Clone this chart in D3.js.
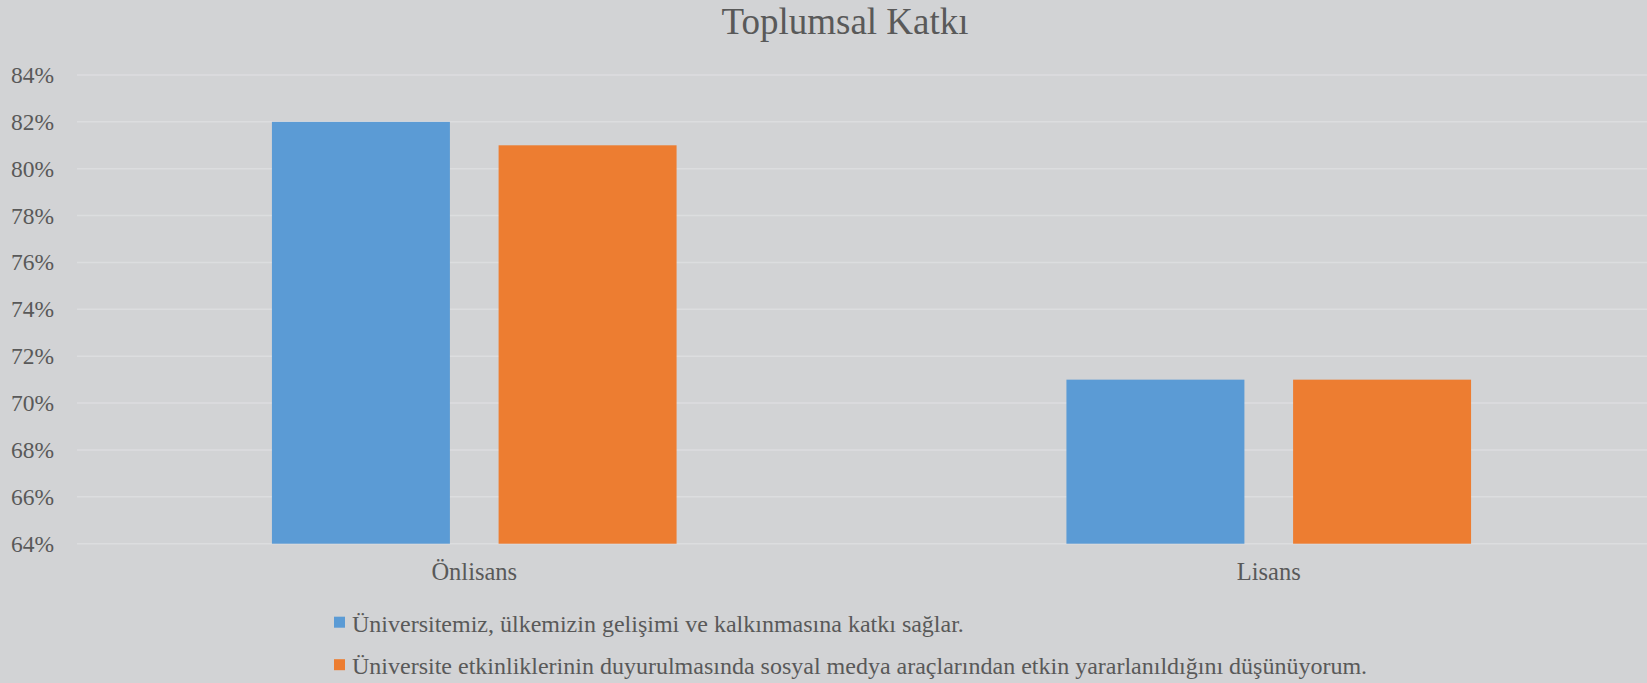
<!DOCTYPE html>
<html>
<head>
<meta charset="utf-8">
<script src="https://cdn.jsdelivr.net/npm/d3@7"></script>
<style>
  body { margin: 0; background: #d2d3d5; overflow: hidden; }
  text { font-family: "Liberation Serif", "Times New Roman", serif; fill: #595959; }
</style>
</head>
<body>
<svg id="chart"></svg>
<script>
// data
var categories = ["Önlisans", "Lisans"]
var seriesNames = [
  "Üniversitemiz, ülkemizin gelişimi ve kalkınmasına katkı sağlar.",
  "Üniversite etkinliklerinin duyurulmasında sosyal medya araçlarından etkin yararlanıldığını düşünüyorum."
]
var seriesOne = [0.82, 0.71]
var seriesTwo = [0.81, 0.71]
var yTicks = [0.64, 0.66, 0.68, 0.70, 0.72, 0.74, 0.76, 0.78, 0.80, 0.82, 0.84]
var colors = ["#5b9bd5", "#ed7d31"]
var title = "Toplumsal Katkı"

var width = 1647
var height = 683

var margin = { top: 75, bottom: 139.3, left: 77, right: -19 }

var svg = d3.select("#chart").attr("width", width).attr("height", height)

var yScale = d3.scaleLinear()
  .domain([0.64, 0.84])
  .range([height - margin.bottom, margin.top])

var x0 = d3.scaleBand()
  .domain(categories)
  .range([margin.left, width - margin.right])

var x1 = d3.scaleBand()
  .domain([0, 1])
  .range([0, x0.bandwidth()])
  .paddingInner(0.2148)
  .paddingOuter(0.86)

// gridlines
svg.append("g")
  .selectAll("line")
  .data(yTicks)
  .enter().append("line")
  .attr("x1", margin.left)
  .attr("x2", width)
  .attr("y1", d => yScale(d))
  .attr("y2", d => yScale(d))
  .attr("stroke", "#dcdddf")
  .attr("stroke-width", 1.5)

// y labels
svg.append("g")
  .selectAll("text")
  .data(yTicks)
  .enter().append("text")
  .attr("x", 54)
  .attr("y", d => yScale(d) + 8)
  .attr("text-anchor", "end")
  .style("font-size", "23.5px")
  .text(d => Math.round(d * 100) + "%")

// bars
var rows = categories.map((c, i) => ({ cat: c, values: [seriesOne[i], seriesTwo[i]] }))

var groups = svg.append("g")
  .selectAll("g")
  .data(rows)
  .enter().append("g")
  .attr("transform", d => "translate(" + x0(d.cat) + ",0)")

groups.selectAll("rect")
  .data(d => d.values.map((v, j) => ({ v: v, j: j })))
  .enter().append("rect")
  .attr("x", d => x1(d.j))
  .attr("width", x1.bandwidth())
  .attr("y", d => yScale(d.v))
  .attr("height", d => yScale(0.64) - yScale(d.v))
  .attr("fill", d => colors[d.j])

// category labels
svg.append("g")
  .selectAll("text")
  .data(categories)
  .enter().append("text")
  .attr("x", d => x0(d) + x0.bandwidth() / 2)
  .attr("y", 579.5)
  .attr("text-anchor", "middle")
  .style("font-size", "24.5px")
  .text(d => d)

// title
svg.append("text")
  .attr("x", 845)
  .attr("y", 34)
  .attr("text-anchor", "middle")
  .style("font-size", "37px")
  .text(title)

// legend
var legend = svg.append("g")
  .selectAll("g")
  .data(seriesNames)
  .enter().append("g")
  .attr("transform", (d, i) => "translate(334," + (631.7 + i * 42.5) + ")")

legend.append("rect")
  .attr("x", 0)
  .attr("y", -15)
  .attr("width", 11)
  .attr("height", 11)
  .attr("fill", (d, i) => colors[i])

legend.append("text")
  .attr("x", 18)
  .attr("y", 0)
  .style("font-size", "24px")
  .text(d => d)
</script>
</body>
</html>
